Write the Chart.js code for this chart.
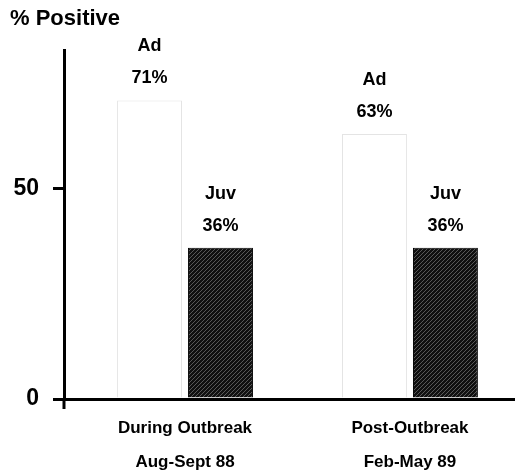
<!DOCTYPE html>
<html>
<head>
<meta charset="utf-8">
<script src="https://cdn.jsdelivr.net/npm/chart.js@4"></script>
<style>
  html, body { margin: 0; padding: 0; background: #fff; }
</style>
</head>
<body>
<canvas id="chart" width="515" height="470"></canvas>
<script>
// data
const categories = [["During Outbreak", "Aug-Sept 88"], ["Post-Outbreak", "Feb-May 89"]];
const seriesNames = ["Ad", "Juv"];
const adultPct = [71, 63];
const juvenilePct = [36, 36];
const yTicks = [0, 50];

const FONT = "'Liberation Sans', Arial, Helvetica, sans-serif";

const ctx = document.getElementById("chart").getContext("2d");

// dark stippled fill for the juvenile bars
function hatch() {
  const c = document.createElement("canvas");
  c.width = 4; c.height = 4;
  const g = c.getContext("2d");
  g.fillStyle = "#101010";
  g.fillRect(0, 0, 4, 4);
  g.fillStyle = "#585858";
  for (let i = 0; i < 4; i++) g.fillRect(i, 3 - i, 1, 1);
  return ctx.createPattern(c, "repeat");
}

// "Ad / 71%" labels above each bar
const barLabels = {
  id: "barLabels",
  afterDatasetsDraw(chart) {
    const c = chart.ctx;
    c.save();
    c.fillStyle = "#000";
    c.textAlign = "center";
    c.textBaseline = "middle";
    c.font = "bold 18px " + FONT;
    chart.data.datasets.forEach((ds, d) => {
      chart.getDatasetMeta(d).data.forEach((bar, i) => {
        c.fillText(ds.label, bar.x, bar.y - 54);
        c.fillText(ds.data[i].y + "%", bar.x, bar.y - 22);
      });
    });
    c.restore();
  }
};

// y axis runs a little past the zero line
const axisStub = {
  id: "axisStub",
  afterDraw(chart) {
    const c = chart.ctx;
    const a = chart.chartArea;
    c.save();
    c.strokeStyle = "#000";
    c.lineWidth = 3;
    c.beginPath();
    c.moveTo(a.left, a.bottom);
    c.lineTo(a.left, a.bottom + 10);
    c.stroke();
    c.restore();
  }
};

new Chart(ctx, {
  type: "bar",
  data: {
    datasets: [
      {
        label: seriesNames[0],
        data: adultPct.map((v, i) => ({ x: i + 1, y: v })),
        backgroundColor: "#ffffff",
        borderColor: "#e4e4e4",
        borderWidth: 1,
        borderSkipped: "bottom"
      },
      {
        label: seriesNames[1],
        data: juvenilePct.map((v, i) => ({ x: i + 1, y: v })),
        backgroundColor: hatch(),
        borderColor: "#000",
        borderWidth: 1,
        borderSkipped: "bottom"
      }
    ]
  },
  options: {
    responsive: false,
    animation: false,
    categoryPercentage: 0.631,
    barPercentage: 0.915,
    layout: { padding: { left: 10, top: 0, right: 0, bottom: 0 } },
    plugins: {
      legend: { display: false },
      tooltip: { enabled: false },
      title: {
        display: true,
        text: "% Positive",
        align: "start",
        color: "#000",
        font: { family: FONT, size: 22, weight: "bold", lineHeight: 1.2 },
        padding: { top: 6, bottom: 17.6 }
      }
    },
    scales: {
      x: {
        type: "linear",
        offset: false,
        bounds: "data",
        min: 0.462,
        max: 2.467,
        afterBuildTicks: s => { s.ticks = categories.map((c, i) => ({ value: i + 1 })); },
        afterFit: s => { s.height = 71; },
        grid: { display: false, drawTicks: false, offset: false },
        border: { display: true, color: "#000", width: 3 },
        ticks: {
          callback: v => categories[v - 1],
          color: "#000",
          padding: 12,
          maxRotation: 0,
          autoSkip: false,
          font: { family: FONT, size: 17, weight: "bold", lineHeight: 2 }
        }
      },
      y: {
        min: 0,
        max: 83,
        afterBuildTicks: s => { s.ticks = yTicks.map(v => ({ value: v })); },
        afterFit: s => { s.width = 54; },
        grid: { drawOnChartArea: false, drawTicks: true, tickLength: 11, color: "#000", lineWidth: 3 },
        border: { display: true, color: "#000", width: 3 },
        ticks: {
          color: "#000",
          padding: 14,
          font: { family: FONT, size: 23, weight: "bold" }
        }
      }
    }
  },
  plugins: [barLabels, axisStub]
});
</script>
</body>
</html>
